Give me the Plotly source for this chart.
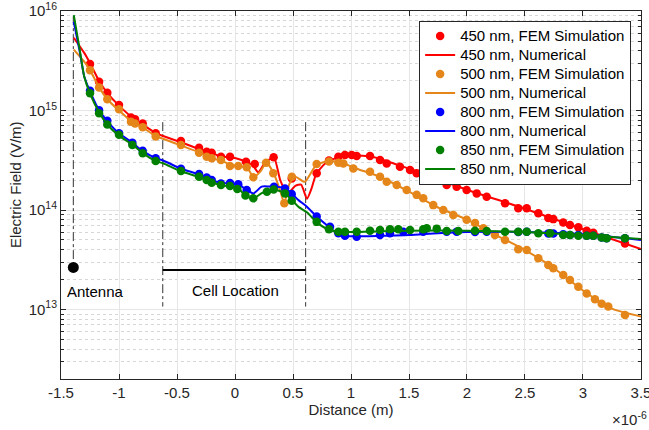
import numpy as np
import plotly.graph_objects as go

# ---------------- data (x in units of 1e-6 m, y in V/m) ----------------
fem450_x = [-1.25, -1.172, -1.101, -1.0, -0.897, -0.862, -0.796, -0.684, -0.466, -0.31, -0.244, -0.201, -0.121, -0.043,
            0.095, 0.17, 0.333, 0.489, 0.704, 0.81, 0.891, 0.948, 1.006, 1.049, 1.164, 1.25, 1.308, 1.422, 1.509, 1.566,
            1.623, 1.709, 1.825, 1.911, 1.997, 2.084, 2.17, 2.328, 2.442, 2.515, 2.615, 2.701, 2.744, 2.83, 2.888, 2.96,
            3.032, 3.089, 3.362]
fem450_y = [2.93e15, 1.95e15, 1.51e15, 1.14e15, 8.5e14, 8.2e14, 7.4e14, 5.9e14, 4.93e14, 4.23e14, 3.86e14, 3.77e14, 3.44e14,
            3.44e14, 3.05e14, 2.9e14, 3.39e14, 2.08e14, 2.34e14, 3.15e14, 3.44e14, 3.57e14, 3.57e14, 3.49e14, 3.49e14, 3.18e14,
            2.94e14, 2.72e14, 2.52e14, 2.34e14, 2.25e14, 2.0e14, 1.78e14, 1.71e14, 1.59e14, 1.47e14, 1.36e14, 1.17e14, 1.04e14,
            1.04e14, 9.3e13, 8.3e13, 8.1e13, 7.5e13, 7.07e13, 6.7e13, 6.2e13, 5.9e13, 4.6e13]
num450_x = [-1.39, -1.3, -1.25, -1.17, -1.1, -1.0, -0.88, -0.8, -0.68, -0.62, -0.466, -0.31, -0.2, -0.12, -0.04, 0.05,
            0.1, 0.15, 0.2, 0.26, 0.335, 0.39, 0.45, 0.52, 0.57, 0.62, 0.66, 0.7, 0.78, 0.89, 1.0, 1.2, 1.5, 2.0, 2.5, 3.0, 3.5]
num450_y = [5.4e15, 3.8e15, 3.0e15, 1.97e15, 1.5e15, 1.12e15, 8.4e14, 7.3e14, 5.9e14, 5.55e14, 4.8e14, 4.1e14, 3.75e14,
            3.45e14, 3.4e14, 3.2e14, 3.0e14, 2.85e14, 2.4e14, 3.0e14, 3.36e14, 2.0e14, 1.45e14, 1.75e14, 1.8e14, 1.3e14,
            1.65e14, 2.3e14, 2.95e14, 3.4e14, 3.55e14, 3.4e14, 2.6e14, 1.6e14, 1.03e14, 6.4e13, 4.05e13]

fem500_x = [-1.25, -1.172, -1.101, -1.0, -0.897, -0.862, -0.796, -0.684, -0.466, -0.31, -0.244, -0.201, -0.121, -0.043,
            0.028, 0.101, 0.158, 0.268, 0.33, 0.425, 0.49, 0.704, 0.81, 0.891, 0.934, 1.02, 1.164, 1.25, 1.308, 1.394,
            1.48, 1.566, 1.623, 1.709, 1.796, 1.882, 1.997, 2.069, 2.141, 2.241, 2.328, 2.442, 2.515, 2.615, 2.701, 2.744,
            2.83, 2.888, 2.96, 3.032, 3.103, 3.161, 3.218, 3.362]
fem500_y = [2.55e15, 1.71e15, 1.30e15, 1.03e15, 7.7e14, 7.4e14, 6.8e14, 5.5e14, 4.5e14, 3.77e14, 3.44e14, 3.31e14, 3.18e14,
            2.77e14, 2.77e14, 2.69e14, 2.13e14, 2.99e14, 2.34e14, 1.17e14, 2.16e14, 2.9e14, 3.08e14, 2.99e14, 2.94e14, 2.62e14,
            2.43e14, 2.16e14, 1.92e14, 1.78e14, 1.59e14, 1.42e14, 1.31e14, 1.12e14, 1.0e14, 8.9e13, 8.0e13, 7.4e13, 6.55e13,
            5.6e13, 5.0e13, 4.03e13, 3.96e13, 3.27e13, 2.8e13, 2.6e13, 2.22e13, 1.98e13, 1.69e13, 1.45e13, 1.27e13, 1.14e13,
            1.07e13, 8.8e12]
num500_x = [-1.39, -1.3, -1.25, -1.17, -1.1, -1.0, -0.88, -0.8, -0.68, -0.62, -0.466, -0.31, -0.2, -0.12, -0.04, 0.02,
            0.1, 0.16, 0.22, 0.27, 0.33, 0.39, 0.425, 0.47, 0.52, 0.6, 0.7, 0.81, 0.93, 1.05, 1.25, 1.5, 1.75, 2.0, 2.25,
            2.5, 2.75, 3.0, 3.25, 3.5]
num500_y = [4.1e15, 3.1e15, 2.55e15, 1.7e15, 1.3e15, 1.0e15, 7.6e14, 6.8e14, 5.5e14, 5.2e14, 4.45e14, 3.8e14, 3.3e14,
            3.15e14, 2.85e14, 2.75e14, 2.7e14, 2.15e14, 2.45e14, 2.99e14, 2.4e14, 1.56e14, 1.17e14, 1.85e14, 2.16e14, 1.92e14,
            2.83e14, 3.1e14, 2.95e14, 2.6e14, 2.16e14, 1.53e14, 1.06e14, 8.0e13, 5.6e13, 3.96e13, 2.6e13, 1.55e13, 1.02e13,
            8.5e12]

fem800_x = [-1.25, -1.172, -1.101, -1.0, -0.885, -0.796, -0.684, -0.466, -0.31, -0.244, -0.201, -0.121, -0.043, 0.028,
            0.101, 0.336, 0.431, 0.489, 0.704, 0.819, 0.891, 0.948, 1.049, 1.25, 1.336, 1.451, 1.623, 1.825, 1.911, 2.069,
            2.17, 2.442, 2.515, 2.701, 2.744, 2.83, 2.888, 2.96, 3.032, 3.089, 3.161, 3.204, 3.362]
fem800_y = [1.58e15, 1.01e15, 7.9e14, 5.9e14, 4.74e14, 3.94e14, 3.31e14, 2.6e14, 2.3e14, 2.12e14, 2.0e14, 1.85e14, 1.87e14,
            1.82e14, 1.59e14, 1.71e14, 1.65e14, 1.45e14, 8.6e13, 6.8e13, 5.83e13, 5.5e13, 5.4e13, 5.6e13, 5.83e13, 6.05e13,
            6.05e13, 6.05e13, 6.05e13, 6.0e13, 6.05e13, 6.0e13, 6.05e13, 5.8e13, 5.8e13, 5.7e13, 5.6e13, 5.6e13, 5.5e13,
            5.5e13, 5.3e13, 5.2e13, 5.2e13]
num800_x = [-1.39, -1.34, -1.3, -1.25, -1.17, -1.1, -1.0, -0.88, -0.8, -0.68, -0.62, -0.466, -0.31, -0.2, -0.12, -0.04,
            0.03, 0.1, 0.16, 0.23, 0.3, 0.43, 0.49, 0.55, 0.62, 0.7, 0.8, 0.9, 1.0, 1.25, 1.5, 1.75, 2.0, 2.5, 3.0, 3.5]
num800_y = [7.8e15, 4.0e15, 2.2e15, 1.56e15, 1.0e15, 7.8e14, 5.9e14, 4.7e14, 3.95e14, 3.3e14, 3.15e14, 2.6e14, 2.28e14,
            2.0e14, 1.87e14, 1.85e14, 1.8e14, 1.6e14, 1.47e14, 1.72e14, 1.72e14, 1.68e14, 1.45e14, 1.25e14, 1.08e14, 8.7e13,
            6.9e13, 5.6e13, 5.45e13, 5.5e13, 5.6e13, 5.85e13, 6.0e13, 6.0e13, 5.7e13, 5.0e13]

fem850_x = [-1.25, -1.172, -1.101, -1.0, -0.885, -0.796, -0.684, -0.466, -0.31, -0.244, -0.201, -0.121, -0.043, 0.02,
            0.09, 0.158, 0.275, 0.333, 0.431, 0.489, 0.704, 0.81, 0.891, 0.948, 1.049, 1.164, 1.25, 1.336, 1.408, 1.509,
            1.623, 1.653, 1.739, 1.825, 1.925, 2.069, 2.17, 2.328, 2.442, 2.515, 2.615, 2.716, 2.83, 2.888, 2.96, 3.032,
            3.089, 3.161, 3.204, 3.362]
fem850_y = [1.49e15, 9.4e14, 7.25e14, 5.7e14, 4.5e14, 3.72e14, 3.11e14, 2.47e14, 2.16e14, 2.0e14, 1.88e14, 1.78e14, 1.74e14,
            1.63e14, 1.40e14, 1.31e14, 1.53e14, 1.61e14, 1.47e14, 1.24e14, 7.6e13, 6.4e13, 6.05e13, 6.05e13, 6.05e13, 6.2e13,
            6.3e13, 6.4e13, 6.4e13, 6.3e13, 6.4e13, 6.55e13, 6.5e13, 6.15e13, 6.15e13, 6.2e13, 6.15e13, 6.05e13, 6.05e13,
            6.05e13, 5.83e13, 5.83e13, 5.6e13, 5.6e13, 5.5e13, 5.5e13, 5.5e13, 5.3e13, 5.2e13, 5.2e13]
num850_x = [-1.39, -1.34, -1.3, -1.25, -1.17, -1.1, -1.0, -0.88, -0.8, -0.68, -0.62, -0.466, -0.31, -0.2, -0.12, -0.04,
            0.03, 0.09, 0.16, 0.23, 0.3, 0.35, 0.43, 0.49, 0.55, 0.62, 0.7, 0.8, 0.9, 1.0, 1.25, 1.5, 2.0, 2.5, 3.0, 3.5]
num850_y = [9.1e15, 4.2e15, 2.2e15, 1.48e15, 9.5e14, 7.2e14, 5.6e14, 4.5e14, 3.75e14, 3.1e14, 2.95e14, 2.45e14, 2.15e14,
            1.9e14, 1.78e14, 1.72e14, 1.64e14, 1.4e14, 1.3e14, 1.48e14, 1.58e14, 1.6e14, 1.47e14, 1.26e14, 1.07e14, 9.5e13,
            7.6e13, 6.4e13, 6.05e13, 6.0e13, 6.1e13, 6.2e13, 6.2e13, 6.0e13, 5.6e13, 5.1e13]

# annotation geometry (data units)
antenna_x = -1.394
antenna_line_y = [8.9e15, 3.0e13]
antenna_dot_y = 2.65e13
cell_left, cell_right = -0.623, 0.609
cell_line_y = [7.65e14, 1.07e13]
cell_bar_y = 2.5e13

x_ticks = [-1.5, -1, -0.5, 0, 0.5, 1, 1.5, 2, 2.5, 3, 3.5]
x_tick_text = ["-1.5", "-1", "-0.5", "0", "0.5", "1", "1.5", "2", "2.5", "3", "3.5"]
y_ticks = [1e13, 1e14, 1e15, 1e16]
y_tick_text = ["10<sup>13</sup>", "10<sup>14</sup>", "10<sup>15</sup>", "10<sup>16</sup>"]
y_min, y_max = 2e12, 1e16

colors = {"450": "#ff0000", "500": "#e5861a", "800": "#0000ff", "850": "#008000"}

series = [
    ("450", fem450_x, fem450_y, num450_x, num450_y),
    ("500", fem500_x, fem500_y, num500_x, num500_y),
    ("800", fem800_x, fem800_y, num800_x, num800_y),
    ("850", fem850_x, fem850_y, num850_x, num850_y),
]

FONT = "Liberation Sans"
TXT = "#262626"
FS = 15

fig = go.Figure()

# annotation lines (drawn first, underneath)
dd = dict(color="#333333", width=1, dash="dashdot")
fig.add_trace(go.Scatter(x=[antenna_x, antenna_x], y=antenna_line_y, mode="lines",
                         line=dd, showlegend=False, hoverinfo="skip"))
fig.add_trace(go.Scatter(x=[cell_left, cell_left], y=cell_line_y, mode="lines",
                         line=dd, showlegend=False, hoverinfo="skip"))
fig.add_trace(go.Scatter(x=[cell_right, cell_right], y=cell_line_y, mode="lines",
                         line=dd, showlegend=False, hoverinfo="skip"))
fig.add_trace(go.Scatter(x=[cell_left, cell_right], y=[cell_bar_y, cell_bar_y], mode="lines",
                         line=dict(color="black", width=2), showlegend=False, hoverinfo="skip"))
fig.add_trace(go.Scatter(x=[antenna_x], y=[antenna_dot_y], mode="markers",
                         marker=dict(color="black", size=11, symbol="circle"), showlegend=False, hoverinfo="skip"))

for wl, fx, fy, nx, ny in series:
    c = colors[wl]
    fig.add_trace(go.Scatter(x=fx, y=fy, mode="markers",
                             name=f'<span style="font-size:{FS}px">{wl} nm, FEM Simulation</span>',
                             marker=dict(color=c, size=8.5, symbol="circle")))
    fig.add_trace(go.Scatter(x=nx, y=ny, mode="lines",
                             name=f'<span style="font-size:{FS}px">{wl} nm, Numerical</span>',
                             line=dict(color=c, width=2, shape="spline", smoothing=0.6)))

minor_vals = [k * 10.0 ** n for n in range(12, 16) for k in range(2, 10) if y_min <= k * 10.0 ** n <= y_max]

fig.update_layout(
    width=649, height=430,
    margin=dict(l=61, r=8, t=11, b=51, autoexpand=False),
    paper_bgcolor="white", plot_bgcolor="white",
    font=dict(family=FONT, size=FS, color=TXT),
    legend=dict(x=0.983, y=0.974, xanchor="right", yanchor="top",
                bgcolor="white", bordercolor="#262626", borderwidth=1,
                font=dict(family=FONT, size=11.8, color="black"),
                tracegroupgap=0, itemwidth=30),
    showlegend=True,
)

fig.update_xaxes(
    range=[-1.5002, 3.5002], tickmode="array", tickvals=x_ticks, ticktext=x_tick_text, automargin=False,
    ticks="inside", ticklen=5, tickcolor=TXT, showline=True, linecolor=TXT, linewidth=1, mirror="allticks",
    showgrid=True, gridcolor="#e6e6e6", gridwidth=1, zeroline=False, ticklabeloverflow="allow",
    tickfont=dict(family=FONT, size=FS, color=TXT),
    title=dict(text="Distance (m)", font=dict(family=FONT, size=FS, color=TXT), standoff=4),
)
fig.update_yaxes(
    type="log", range=[np.log10(y_min), np.log10(y_max) + 0.001], tickmode="array", tickvals=y_ticks,
    ticktext=y_tick_text, automargin=False,
    ticks="inside", ticklen=5, tickcolor=TXT, showline=True, linecolor=TXT, linewidth=1, mirror="allticks",
    showgrid=True, gridcolor="#e6e6e6", gridwidth=1, zeroline=False, ticklabeloverflow="allow",
    tickfont=dict(family=FONT, size=FS, color=TXT),
    minor=dict(tickmode="array", tickvals=minor_vals, ticks="inside", ticklen=3, tickcolor=TXT,
               showgrid=True, gridcolor="#d6d6d6", griddash="dot", gridwidth=1),
)

fig.add_annotation(x=-0.0793, y=0.527, xref="paper", yref="paper", xanchor="center", yanchor="middle",
                   text="Electric Field (V/m)", textangle=-90, showarrow=False,
                   font=dict(family=FONT, size=FS, color=TXT))
fig.add_annotation(x=-1.2, y=np.log10(1.53e13), xref="x", yref="y", text="Antenna", showarrow=False,
                   font=dict(family=FONT, size=FS, color="black"))
fig.add_annotation(x=0.0, y=np.log10(1.57e13), xref="x", yref="y", text="Cell Location", showarrow=False,
                   font=dict(family=FONT, size=FS, color="black"))
fig.add_annotation(x=1.014, y=-0.106, xref="paper", yref="paper", xanchor="right", yanchor="middle",
                   text="×10<sup>-6</sup>", showarrow=False, font=dict(family=FONT, size=FS, color=TXT))

fig.write_html("out.html")
